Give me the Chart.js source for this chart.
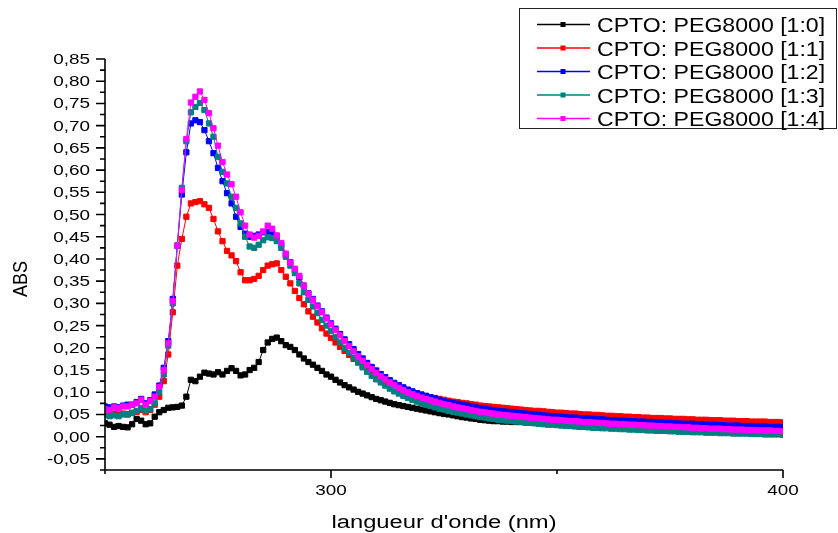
<!DOCTYPE html>
<html>
<head>
<meta charset="utf-8">
<title>CPTO: PEG8000</title>
<script src="https://cdn.jsdelivr.net/npm/chart.js@4"></script>
<style>
  html, body { margin: 0; padding: 0; background: #fff; }
  canvas { display: block; }
</style>
</head>
<body>
<canvas id="absChart" width="838" height="533"></canvas>
<script>
// wavelength (nm), one reading per nm
const wavelength = [
  250,251,252,253,254,255,256,257,258,259,
  260,261,262,263,264,265,266,267,268,269,
  270,271,272,273,274,275,276,277,278,279,
  280,281,282,283,284,285,286,287,288,289,
  290,291,292,293,294,295,296,297,298,299,
  300,301,302,303,304,305,306,307,308,309,
  310,311,312,313,314,315,316,317,318,319,
  320,321,322,323,324,325,326,327,328,329,
  330,331,332,333,334,335,336,337,338,339,
  340,341,342,343,344,345,346,347,348,349,
  350,351,352,353,354,355,356,357,358,359,
  360,361,362,363,364,365,366,367,368,369,
  370,371,372,373,374,375,376,377,378,379,
  380,381,382,383,384,385,386,387,388,389,
  390,391,392,393,394,395,396,397,398,399,
  400
];

// CPTO: PEG8000 [1:0]
const abs10 = [
  0.030,0.027,0.022,0.024,0.022,0.021,0.028,0.040,0.036,0.028,
  0.030,0.045,0.055,0.060,0.065,0.066,0.067,0.070,0.090,0.128,
  0.125,0.135,0.144,0.142,0.140,0.145,0.140,0.148,0.154,0.148,
  0.138,0.140,0.150,0.155,0.168,0.195,0.212,0.220,0.223,0.215,
  0.206,0.202,0.195,0.185,0.176,0.168,0.162,0.155,0.148,0.140,
  0.135,0.128,0.122,0.116,0.111,0.106,0.101,0.097,0.093,0.089,
  0.085,0.082,0.079,0.076,0.073,0.071,0.069,0.067,0.065,0.063,
  0.061,0.059,0.057,0.055,0.053,0.051,0.050,0.048,0.046,0.044,
  0.043,0.041,0.040,0.038,0.037,0.036,0.035,0.035,0.034,0.034,
  0.033,0.033,0.033,0.032,0.032,0.032,0.031,0.031,0.031,0.030,
  0.030,0.030,0.030,0.030,0.029,0.029,0.029,0.029,0.029,0.029,
  0.028,0.028,0.028,0.028,0.028,0.028,0.028,0.027,0.027,0.027,
  0.027,0.027,0.027,0.027,0.026,0.026,0.026,0.026,0.026,0.026,
  0.026,0.026,0.025,0.025,0.025,0.025,0.025,0.025,0.025,0.025,
  0.025,0.025,0.025,0.024,0.024,0.024,0.024,0.024,0.024,0.024,
  0.024
];

// CPTO: PEG8000 [1:1]
const abs11 = [
  0.052,0.050,0.052,0.050,0.052,0.050,0.054,0.056,0.060,0.055,
  0.060,0.072,0.090,0.125,0.185,0.280,0.385,0.445,0.495,0.525,
  0.528,0.530,0.523,0.515,0.490,0.462,0.440,0.418,0.408,0.395,
  0.370,0.352,0.352,0.355,0.362,0.375,0.385,0.388,0.390,0.375,
  0.360,0.345,0.328,0.312,0.298,0.282,0.270,0.257,0.244,0.232,
  0.222,0.212,0.202,0.193,0.184,0.175,0.167,0.159,0.152,0.145,
  0.139,0.133,0.127,0.122,0.117,0.112,0.108,0.104,0.100,0.097,
  0.094,0.091,0.089,0.087,0.085,0.083,0.081,0.079,0.078,0.076,
  0.075,0.073,0.072,0.070,0.069,0.068,0.067,0.066,0.065,0.064,
  0.063,0.062,0.061,0.060,0.059,0.058,0.058,0.057,0.056,0.055,
  0.054,0.054,0.053,0.052,0.052,0.051,0.050,0.050,0.049,0.049,
  0.048,0.047,0.047,0.046,0.046,0.045,0.045,0.044,0.044,0.043,
  0.043,0.042,0.042,0.042,0.041,0.041,0.040,0.040,0.040,0.039,
  0.039,0.038,0.038,0.038,0.037,0.037,0.037,0.036,0.036,0.036,
  0.035,0.035,0.035,0.034,0.034,0.034,0.034,0.033,0.033,0.033,
  0.032
];

// CPTO: PEG8000 [1:2]
const abs12 = [
  0.068,0.066,0.068,0.066,0.070,0.072,0.072,0.078,0.085,0.075,
  0.082,0.095,0.115,0.155,0.215,0.310,0.430,0.545,0.640,0.705,
  0.712,0.708,0.690,0.665,0.638,0.605,0.575,0.548,0.525,0.495,
  0.472,0.457,0.450,0.452,0.455,0.460,0.461,0.458,0.450,0.432,
  0.410,0.393,0.375,0.358,0.340,0.323,0.310,0.295,0.282,0.268,
  0.255,0.243,0.231,0.219,0.208,0.197,0.186,0.176,0.166,0.157,
  0.149,0.141,0.134,0.127,0.121,0.116,0.111,0.106,0.102,0.098,
  0.095,0.092,0.089,0.086,0.083,0.080,0.078,0.076,0.074,0.072,
  0.070,0.068,0.066,0.064,0.063,0.061,0.060,0.058,0.057,0.056,
  0.055,0.054,0.053,0.052,0.051,0.050,0.049,0.048,0.047,0.046,
  0.046,0.045,0.044,0.043,0.043,0.042,0.041,0.041,0.040,0.039,
  0.039,0.038,0.037,0.037,0.036,0.036,0.035,0.035,0.034,0.034,
  0.033,0.033,0.032,0.032,0.031,0.031,0.030,0.030,0.029,0.029,
  0.029,0.028,0.028,0.027,0.027,0.027,0.026,0.026,0.025,0.025,
  0.025,0.024,0.024,0.024,0.023,0.023,0.023,0.022,0.022,0.022,
  0.021
];

// CPTO: PEG8000 [1:3]
const abs13 = [
  0.050,0.046,0.048,0.046,0.050,0.050,0.053,0.058,0.064,0.058,
  0.062,0.075,0.100,0.140,0.205,0.300,0.430,0.560,0.665,0.730,
  0.742,0.751,0.735,0.705,0.675,0.630,0.596,0.570,0.540,0.515,
  0.480,0.450,0.428,0.425,0.432,0.442,0.449,0.447,0.440,0.425,
  0.405,0.385,0.368,0.345,0.325,0.308,0.293,0.278,0.263,0.250,
  0.238,0.224,0.212,0.200,0.189,0.178,0.167,0.156,0.146,0.137,
  0.129,0.122,0.115,0.108,0.102,0.097,0.092,0.087,0.083,0.079,
  0.075,0.072,0.069,0.066,0.063,0.061,0.058,0.056,0.054,0.052,
  0.050,0.048,0.046,0.044,0.043,0.041,0.040,0.038,0.037,0.036,
  0.035,0.034,0.033,0.032,0.031,0.030,0.029,0.028,0.027,0.027,
  0.026,0.025,0.024,0.024,0.023,0.022,0.022,0.021,0.020,0.020,
  0.019,0.019,0.018,0.018,0.017,0.017,0.016,0.016,0.015,0.015,
  0.014,0.014,0.013,0.013,0.013,0.012,0.012,0.011,0.011,0.011,
  0.010,0.010,0.010,0.009,0.009,0.009,0.008,0.008,0.008,0.007,
  0.007,0.007,0.007,0.006,0.006,0.006,0.005,0.005,0.005,0.005,
  0.004
];

// CPTO: PEG8000 [1:4]
const abs14 = [
  0.062,0.060,0.066,0.064,0.068,0.068,0.072,0.075,0.083,0.072,
  0.080,0.090,0.112,0.150,0.210,0.305,0.430,0.555,0.670,0.752,
  0.765,0.777,0.758,0.728,0.694,0.655,0.618,0.590,0.568,0.540,
  0.505,0.475,0.455,0.448,0.452,0.462,0.475,0.468,0.453,0.436,
  0.412,0.392,0.378,0.362,0.340,0.322,0.308,0.293,0.280,0.266,
  0.253,0.240,0.228,0.215,0.204,0.192,0.181,0.171,0.161,0.152,
  0.144,0.136,0.129,0.122,0.116,0.110,0.105,0.100,0.096,0.092,
  0.088,0.085,0.082,0.079,0.076,0.073,0.071,0.068,0.066,0.064,
  0.062,0.060,0.058,0.056,0.055,0.053,0.052,0.050,0.049,0.048,
  0.047,0.046,0.045,0.044,0.043,0.042,0.041,0.040,0.039,0.038,
  0.038,0.037,0.036,0.035,0.035,0.034,0.033,0.033,0.032,0.031,
  0.031,0.030,0.029,0.029,0.028,0.028,0.027,0.027,0.026,0.026,
  0.025,0.025,0.024,0.024,0.023,0.023,0.022,0.022,0.021,0.021,
  0.020,0.020,0.019,0.019,0.018,0.018,0.018,0.017,0.017,0.016,
  0.016,0.016,0.015,0.015,0.015,0.014,0.014,0.014,0.013,0.013,
  0.012
];

const seriesLabels = [
  'CPTO: PEG8000 [1:0]',
  'CPTO: PEG8000 [1:1]',
  'CPTO: PEG8000 [1:2]',
  'CPTO: PEG8000 [1:3]',
  'CPTO: PEG8000 [1:4]'
];
const seriesValues = [abs10, abs11, abs12, abs13, abs14];
const seriesColors = ['#000000', '#ff0000', '#0000ff', '#008080', '#ff00ff'];

const yTicks = [-0.05,0,0.05,0.10,0.15,0.20,0.25,0.30,0.35,0.40,0.45,0.50,0.55,0.60,0.65,0.70,0.75,0.80,0.85];
const yTickLabels = ['-0,05','0,00','0,05','0,10','0,15','0,20','0,25','0,30','0,35','0,40','0,45','0,50','0,55','0,60','0,65','0,70','0,75','0,80','0,85'];
const xTicks = [300, 400];
const xTickLabels = ['300', '400'];
const xMinor = [250, 350];

const FONT = '"Liberation Sans", Arial, sans-serif';

// Origin stretches its text sideways, so draw it through a scaled context
function wideText(ctx, text, x, y, sx, align) {
  ctx.save();
  ctx.translate(x, y);
  ctx.scale(sx, 1);
  ctx.textAlign = align;
  ctx.fillText(text, 0, 0);
  ctx.restore();
}

const originAxes = {
  id: 'originAxes',
  afterDraw(chart) {
    const { ctx, chartArea: a, scales: { x, y } } = chart;
    ctx.save();
    ctx.strokeStyle = '#000';
    ctx.fillStyle = '#000';
    ctx.lineWidth = 1.6;

    ctx.beginPath();
    ctx.moveTo(a.left, a.top);
    ctx.lineTo(a.left, a.bottom + 3);
    ctx.moveTo(a.left, a.bottom);
    ctx.lineTo(a.right, a.bottom);

    yTicks.forEach(v => {
      const py = y.getPixelForValue(v);
      ctx.moveTo(a.left - 9, py);
      ctx.lineTo(a.left, py);
    });
    // minor ticks half way between majors, plus one under -0,05
    [yTicks[0] - 0.025].concat(yTicks.slice(0, -1).map(v => v + 0.025)).forEach(v => {
      const py = y.getPixelForValue(v);
      ctx.moveTo(a.left - 5, py);
      ctx.lineTo(a.left, py);
    });
    xTicks.forEach(v => {
      const px = x.getPixelForValue(v);
      ctx.moveTo(px, a.bottom);
      ctx.lineTo(px, a.bottom + 8);
    });
    xMinor.forEach(v => {
      const px = x.getPixelForValue(v);
      ctx.moveTo(px, a.bottom);
      ctx.lineTo(px, a.bottom + 4);
    });
    ctx.stroke();

    // tick labels
    ctx.font = '14px ' + FONT;
    ctx.textBaseline = 'alphabetic';
    yTicks.forEach((v, i) => {
      wideText(ctx, yTickLabels[i], a.left - 15, y.getPixelForValue(v) + 5, 1.35, 'right');
    });
    xTicks.forEach((v, i) => {
      wideText(ctx, xTickLabels[i], x.getPixelForValue(v), a.bottom + 25, 1.35, 'center');
    });

    // axis titles
    ctx.font = '18px ' + FONT;
    wideText(ctx, "langueur d'onde (nm)", 444, 528, 1.32, 'center');
    ctx.save();
    ctx.translate(21, 279);
    ctx.scale(1.16, 1);
    ctx.rotate(-Math.PI / 2);
    ctx.textAlign = 'center';
    ctx.textBaseline = 'middle';
    ctx.fillText('ABS', 0, 0);
    ctx.restore();

    // legend box
    ctx.fillStyle = '#fff';
    ctx.fillRect(519, 8, 318, 121);
    ctx.strokeStyle = '#222';
    ctx.lineWidth = 1;
    ctx.strokeRect(519.5, 8.5, 317, 120);
    ctx.font = '21px ' + FONT;
    seriesLabels.forEach((label, i) => {
      const cy = 24.5 + i * 23.5;
      ctx.strokeStyle = seriesColors[i];
      ctx.lineWidth = 1.5;
      ctx.beginPath();
      ctx.moveTo(537, cy);
      ctx.lineTo(590, cy);
      ctx.stroke();
      ctx.fillStyle = seriesColors[i];
      ctx.fillRect(560.5, cy - 2.5, 5, 5);
      ctx.fillStyle = '#000';
      wideText(ctx, label, 597, cy + 7.5, 1.1, 'left');
    });
    ctx.restore();
  }
};

function buildDatasets() {
  return seriesValues.map((vals, i) => ({
    label: seriesLabels[i],
    data: wavelength.map((w, j) => ({ x: w, y: vals[j] })),
    borderColor: seriesColors[i],
    backgroundColor: seriesColors[i],
    borderWidth: 1,
    pointStyle: 'rect',
    pointRadius: 3.7,
    pointBorderWidth: 1,
    pointBorderColor: seriesColors[i],
    pointBackgroundColor: seriesColors[i],
    tension: 0,
    // magenta on top, black underneath
    order: seriesLabels.length - i
  }));
}

Chart.defaults.font.family = FONT;

new Chart(document.getElementById('absChart'), {
  type: 'line',
  data: { datasets: buildDatasets() },
  options: {
    responsive: false,
    animation: false,
    events: [],
    layout: { padding: { top: 59, right: 55, left: 0, bottom: 0 } },
    plugins: { legend: { display: false }, tooltip: { enabled: false } },
    scales: {
      x: {
        type: 'linear', min: 250, max: 400,
        grid: { display: false, drawTicks: false },
        border: { display: false },
        ticks: { display: false },
        afterFit: s => { s.height = 63; }
      },
      y: {
        type: 'linear', min: -0.075, max: 0.85,
        grid: { display: false, drawTicks: false },
        border: { display: false },
        ticks: { display: false },
        afterFit: s => { s.width = 105; }
      }
    }
  },
  plugins: [originAxes]
});
</script>
</body>
</html>
